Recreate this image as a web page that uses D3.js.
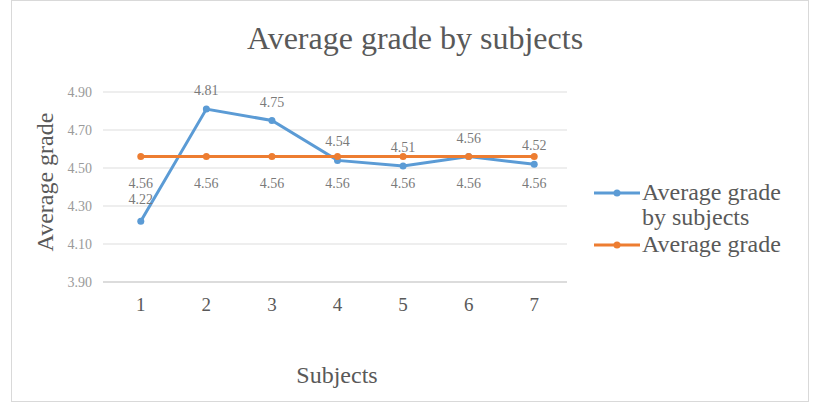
<!DOCTYPE html>
<html><head><meta charset="utf-8">
<script src="https://cdn.jsdelivr.net/npm/d3@7"></script>
<style>body{margin:0;background:#fff;} svg{display:block;}</style>
</head><body>
<svg id="c" width="813" height="403"></svg>
<script>
const categories = ["1","2","3","4","5","6","7"];
const bySubjects = [4.22, 4.81, 4.75, 4.54, 4.51, 4.56, 4.52];
const average = [4.56, 4.56, 4.56, 4.56, 4.56, 4.56, 4.56];
const yTicks = [3.90, 4.10, 4.30, 4.50, 4.70, 4.90];
const seriesNames = ["Average grade by subjects", "Average grade"];

const svg = d3.select("#c");
const font = "'Liberation Serif', 'DejaVu Serif', serif";
svg.append("rect").attr("x",11.5).attr("y",0.5).attr("width",797).attr("height",401)
  .attr("fill","#fff").attr("stroke","#d9d9d9");

const x = d3.scaleBand().domain(categories).range([108, 567]);
const y = d3.scaleLinear().domain([3.90, 4.90]).range([282, 92]);

// gridlines
svg.append("g").selectAll("line").data(yTicks).join("line")
  .attr("x1",103).attr("x2",567).attr("y1",d=>y(d)).attr("y2",d=>y(d))
  .attr("stroke",d=>d===3.90?"#d0d0d0":"#e8e8e8").attr("stroke-width",1.5);

// y axis labels
const yAxis = d3.axisLeft(y).tickValues(yTicks).tickFormat(d3.format(".2f")).tickSize(0).tickPadding(0);
const ga = svg.append("g").attr("transform","translate(92,0)").call(yAxis);
ga.select(".domain").remove();
ga.selectAll("text").attr("font-family",font).attr("font-size",14).attr("fill","#9a9a9a");

// x axis labels
const xAxis = d3.axisBottom(x).tickSize(0).tickPadding(0);
const gx = svg.append("g").attr("transform","translate(0,298)").call(xAxis);
gx.select(".domain").remove();
gx.selectAll("text").attr("font-family",font).attr("font-size",19).attr("fill","#595959").attr("dy","0.7em");

const cx = d => x(d) + x.bandwidth()/2;
const line = d3.line().x((d,i)=>cx(categories[i])).y(d=>y(d));

const colors = ["#5b9bd5", "#ed7d31"];
[bySubjects, average].forEach((vals, k) => {
  const col = colors[k];
  svg.append("path").attr("d", line(vals)).attr("fill","none").attr("stroke",col).attr("stroke-width",3);
  svg.append("g").selectAll("circle").data(vals).join("circle")
    .attr("cx",(d,i)=>cx(categories[i])).attr("cy",d=>y(d)).attr("r",3.5).attr("fill",col);
});

// data labels
svg.append("g").selectAll("text").data(bySubjects).join("text")
  .attr("x",(d,i)=>cx(categories[i])).attr("y",(d,i)=>y(d)-(i===0?17:14))
  .attr("text-anchor","middle").attr("font-family",font).attr("font-size",14).attr("fill","#7a7a7a")
  .text(d=>d.toFixed(2));
svg.append("g").selectAll("text").data(average).join("text")
  .attr("x",(d,i)=>cx(categories[i])).attr("y",d=>y(d)+31)
  .attr("text-anchor","middle").attr("font-family",font).attr("font-size",14).attr("fill","#7a7a7a")
  .text(d=>d.toFixed(2));

// title
svg.append("text").attr("x",415).attr("y",49).attr("text-anchor","middle")
  .attr("font-family",font).attr("font-size",32).attr("fill","#595959").text("Average grade by subjects");
// axis titles
svg.append("text").attr("transform","translate(53,182) rotate(-90)").attr("text-anchor","middle")
  .attr("font-family",font).attr("font-size",24).attr("fill","#595959").text("Average grade");
svg.append("text").attr("x",337).attr("y",383).attr("text-anchor","middle")
  .attr("font-family",font).attr("font-size",24).attr("fill","#595959").text("Subjects");

// legend
const lg = svg.append("g");
[[colors[0], 193, ["Average grade","by subjects"]],[colors[1], 245, ["Average grade"]]].forEach(([col, ly, lines]) => {
  lg.append("line").attr("x1",594).attr("x2",640).attr("y1",ly).attr("y2",ly).attr("stroke",col).attr("stroke-width",3);
  lg.append("circle").attr("cx",617).attr("cy",ly).attr("r",3.5).attr("fill",col);
  lines.forEach((t,j)=>{
    lg.append("text").attr("x",642).attr("y",ly+7+j*25).attr("font-family",font).attr("font-size",24)
      .attr("fill","#595959").text(t);
  });
});
</script>
</body></html>
